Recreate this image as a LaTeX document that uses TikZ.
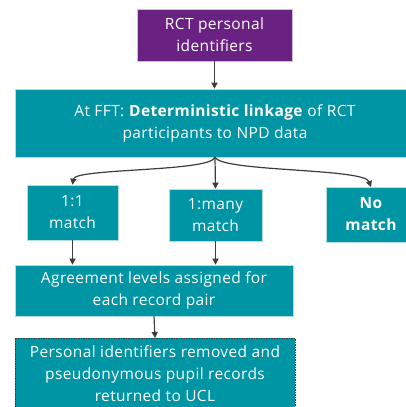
\documentclass[tikz,border=0pt]{standalone}
\usepackage{fontspec}
\setmainfont[LetterSpace=2.5]{Open Sans}
\usetikzlibrary{arrows.meta}
\definecolor{teal}{HTML}{0095A5}
\definecolor{plum}{HTML}{6A2282}
\definecolor{wire}{HTML}{3C3C3C}
\begin{document}
\begin{tikzpicture}[x=1pt,y=-1pt,
  box/.style={fill=teal,text=white,draw=white!70!teal,line width=0.6pt,
    align=center,inner sep=0pt,font=\fontsize{15.5}{22}\selectfont},
  arr/.style={draw=wire,line width=1.2pt,-{Triangle[length=6pt,width=6pt]}}]
\useasboundingbox (0,0) rectangle (406,407);
\clip (0,0) rectangle (406,407);
% boxes
\node[box,fill=plum,draw=white!70!plum,minimum width=155pt,minimum height=52pt] (rct) at (214.5,35) {RCT personal\\identifiers};
\node[box,minimum width=400pt,minimum height=68pt] (fft) at (215,123) {At FFT: \textbf{Deterministic linkage} of RCT\\participants to NPD data};
\node[box,minimum width=91pt,minimum height=55pt] (one) at (72.5,212.5) {1:1\\match};
\node[box,minimum width=93pt,minimum height=52pt] (many) at (215.5,215) {1:many\\match};
\node[box,minimum width=90pt,minimum height=55pt,font=\fontsize{15.5}{22}\selectfont\bfseries] (none) at (371,214.5) {No\\match};
\node[box,minimum width=278pt,minimum height=51pt] (agree) at (154,290.5) {Agreement levels assigned for\\each record pair};
\node[box,draw=wire,dashed,dash pattern=on 1.5pt off 1pt,line width=0.6pt,minimum width=280pt,minimum height=80pt,anchor=north] (ucl) at (155,338) {};
\node[font=\fontsize{15.5}{22}\selectfont,text=white,align=center] (ucltext) at (155,373.5) {Personal identifiers removed and\\pseudonymous pupil records\\returned to UCL};
% connectors
\coordinate (split) at (215,157);
\draw[arr] (rct.south) -- (fft.north -| rct.south);
\draw[arr] (split) .. controls (212,172) and (75,168) .. (one.north);
\draw[arr] (split) -- (many.north);
\draw[arr] (split) .. controls (220,172) and (364,168) .. (371,187);
\draw[arr] (one.south) -- (agree.north -| one.south);
\draw[arr] (many.south) -- (agree.north -| many.south);
\draw[arr] (agree.south) -- (ucl.north);
\end{tikzpicture}
\end{document}
